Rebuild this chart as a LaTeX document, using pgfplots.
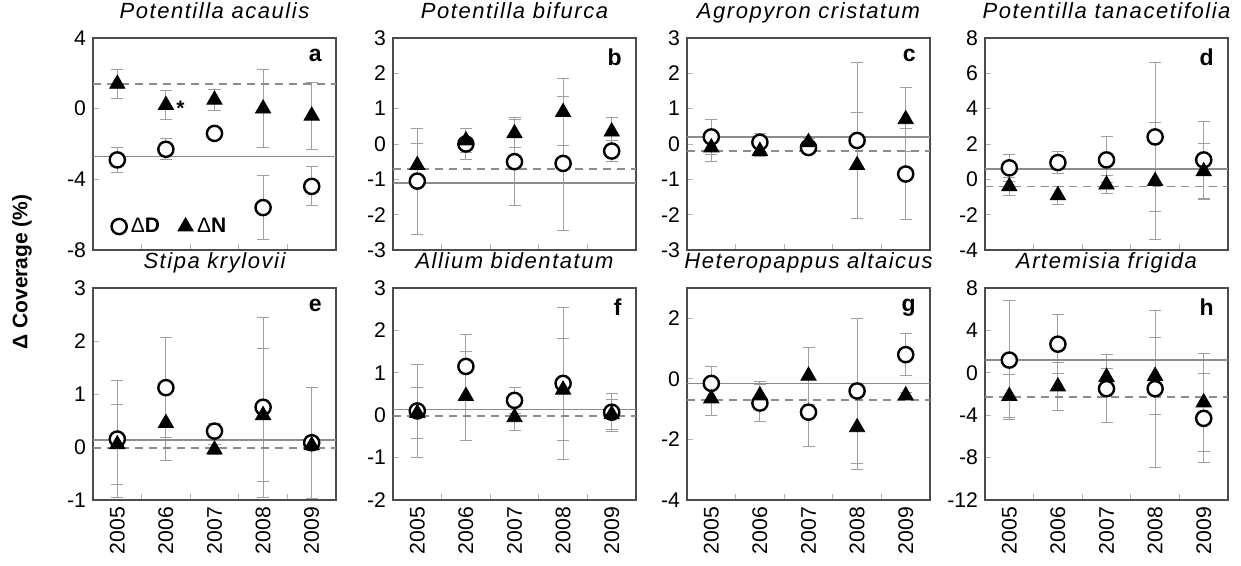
\documentclass[border=0pt]{standalone}
\usepackage{fontspec}
\setmainfont{Liberation Sans}
\newfontfamily\titlefont[LetterSpace=7]{Liberation Sans}
\usepackage{pgfplots}
\usepackage{pgfplotstable}
\pgfplotsset{compat=1.18}
\definecolor{ebar}{gray}{0.62}
\definecolor{mline}{gray}{0.55}
\definecolor{frame}{gray}{0.3}

\pgfplotstableread{
x d de n ne
0 -2.9 0.7 1.4 0.8
1 -2.3 0.6 0.2 0.8
2 -1.4 0.2 0.5 0.6
3 -5.6 1.8 0.0 2.2
4 -4.4 1.1 -0.4 1.9
}\tabA
\pgfplotstableread{
x d de n ne
0 -1.05 1.5 -0.6 0.6
1 0.0 0.45 0.1 0.35
2 -0.5 1.25 0.3 0.4
3 -0.55 1.9 0.9 0.95
4 -0.2 0.3 0.35 0.4
}\tabB
\pgfplotstableread{
x d de n ne
0 0.2 0.5 -0.1 0.4
1 0.05 0.25 -0.2 0.15
2 -0.1 0.1 0.05 0.1
3 0.1 2.2 -0.6 1.5
4 -0.85 1.3 0.7 0.9
}\tabC
\pgfplotstableread{
x d de n ne
0 0.65 0.75 -0.4 0.5
1 0.95 0.6 -0.9 0.5
2 1.1 1.3 -0.3 0.5
3 2.4 4.2 -0.1 3.3
4 1.1 2.2 0.45 1.6
}\tabD
\pgfplotstableread{
x d de n ne
0 0.15 1.1 0.05 0.75
1 1.12 0.95 0.45 0.7
2 0.3 0.15 -0.05 0.1
3 0.75 1.7 0.6 1.25
4 0.08 1.05 0.03 0.1
}\tabE
\pgfplotstableread{
x d de n ne
0 0.1 1.1 0.05 0.6
1 1.15 0.75 0.45 1.05
2 0.35 0.3 -0.05 0.3
3 0.75 1.8 0.6 1.2
4 0.07 0.45 0.02 0.35
}\tabF
\pgfplotstableread{
x d de n ne
0 -0.15 0.55 -0.65 0.55
1 -0.8 0.6 -0.55 0.45
2 -1.1 1.15 0.1 0.95
3 -0.4 2.4 -1.6 1.4
4 0.8 0.7 -0.55 0.1
}\tabG
\pgfplotstableread{
x d de n ne
0 1.2 5.6 -2.2 2.0
1 2.7 2.8 -1.3 2.3
2 -1.5 3.2 -0.4 0.8
3 -1.5 7.4 -0.3 3.6
4 -4.3 4.2 -2.8 4.6
}\tabH

\pgfplotsset{
  panel/.style={
    scale only axis, width=121.5pt, height=106pt,
    anchor=north west,
    xmin=-0.5, xmax=4.5,
    axis line style={draw=frame, line width=0.8pt},
    xtick={0.5,1.5,2.5,3.5}, xticklabels={},
    tick align=inside, xtick pos=bottom, ytick pos=left,
    tick style={draw=gray!60, line width=0.4pt},
    major tick length=3pt,
    /pgf/number format/assume math mode=true,
    yticklabel style={font=\fontsize{10.6}{12}\selectfont},
    xticklabel style={font=\fontsize{10.6}{12}\selectfont},
    title style={font=\titlefont\itshape\fontsize{11}{12}\selectfont, at={(0.5,1)}, anchor=base, yshift=3.8pt},
  },
  years/.style={
    extra x ticks={0,1,2,3,4},
    extra x tick labels={2005,2006,2007,2008,2009},
    extra x tick style={major tick length=0pt, xticklabel style={rotate=90, anchor=east, xshift=0pt}},
  },
}
\tikzset{letter/.style={font=\bfseries\fontsize{11.5}{12}\selectfont, anchor=north east}}

\newcommand{\drawpanel}[3]{%
  \addplot[only marks, mark=none, forget plot,
    error bars/.cd, y dir=both, y explicit,
    error bar style={draw=ebar, line width=0.5pt},
    error mark options={draw=ebar, rotate=90, mark size=3pt, line width=0.5pt}]
    table[x=x, y=d, y error=de] {#1};
  \addplot[only marks, mark=none, forget plot,
    error bars/.cd, y dir=both, y explicit,
    error bar style={draw=ebar, line width=0.5pt},
    error mark options={draw=ebar, rotate=90, mark size=3pt, line width=0.5pt}]
    table[x=x, y=n, y error=ne] {#1};
  \addplot[mline, line width=0.8pt, forget plot] coordinates {(-0.5,#2) (4.5,#2)};
  \addplot[mline, line width=0.8pt, dash pattern=on 4pt off 3pt, forget plot] coordinates {(-0.5,#3) (4.5,#3)};
  \addplot[only marks, mark=*, mark size=3.8pt, mark options={fill=white, draw=black, line width=1.2pt}] table[x=x, y=d] {#1};
  \addplot[only marks, mark=triangle*, mark size=4.4pt, mark options={fill=black, draw=black}] table[x=x, y=n] {#1};
}

\begin{document}
\begin{tikzpicture}
\useasboundingbox (0,0) rectangle (620.5pt,-283pt);

% a
\begin{axis}[panel, at={(46.5pt,-19pt)}, ymin=-8, ymax=4, ytick={-8,-4,0,4},
  title={Potentilla acaulis},
  legend style={at={(0.05,0.03)}, anchor=south west, draw=none, fill=none,
    font=\fontsize{10.5}{12}\selectfont, legend columns=2,
    /tikz/every even column/.append style={column sep=7pt}},
  legend cell align=left]
\drawpanel{\tabA}{-2.7}{1.4}
\legend{Δ\textbf{D}, Δ\textbf{N}}
\node[font=\bfseries\fontsize{10.5}{12}\selectfont] at (axis cs:1.3,0.05) {*};
\node[letter] at (rel axis cs:0.97,0.98) {a};
\end{axis}

% b
\begin{axis}[panel, at={(196.5pt,-19pt)}, ymin=-3, ymax=3, ytick={-3,-2,...,3},
  title={Potentilla bifurca}]
\drawpanel{\tabB}{-1.1}{-0.7}
\node[letter] at (rel axis cs:0.97,0.98) {b};
\end{axis}

% c
\begin{axis}[panel, at={(343.5pt,-19pt)}, ymin=-3, ymax=3, ytick={-3,-2,...,3},
  title={Agropyron cristatum}]
\drawpanel{\tabC}{0.2}{-0.2}
\node[letter] at (rel axis cs:0.97,0.98) {c};
\end{axis}

% d
\begin{axis}[panel, at={(492.5pt,-19pt)}, ymin=-4, ymax=8, ytick={-4,-2,...,8},
  title={Potentilla tanacetifolia}]
\drawpanel{\tabD}{0.6}{-0.4}
\node[letter] at (rel axis cs:0.97,0.98) {d};
\end{axis}

% e
\begin{axis}[panel, years, at={(46.5pt,-144pt)}, ymin=-1, ymax=3, ytick={-1,0,...,3},
  title={Stipa krylovii}]
\drawpanel{\tabE}{0.13}{-0.02}
\node[letter] at (rel axis cs:0.97,0.98) {e};
\end{axis}

% f
\begin{axis}[panel, years, at={(196.5pt,-144pt)}, ymin=-2, ymax=3, ytick={-2,-1,...,3},
  title={Allium bidentatum}]
\drawpanel{\tabF}{0.13}{-0.02}
\node[letter] at (rel axis cs:0.97,0.98) {f};
\end{axis}

% g
\begin{axis}[panel, years, at={(343.5pt,-144pt)}, ymin=-4, ymax=3, ytick={-4,-2,0,2},
  title={Heteropappus altaicus}]
\drawpanel{\tabG}{-0.15}{-0.7}
\node[letter] at (rel axis cs:0.97,0.98) {g};
\end{axis}

% h
\begin{axis}[panel, years, at={(492.5pt,-144pt)}, ymin=-12, ymax=8, ytick={-12,-8,...,8},
  title={Artemisia frigida}]
\drawpanel{\tabH}{1.2}{-2.3}
\node[letter] at (rel axis cs:0.97,0.98) {h};
\end{axis}

\node[rotate=90, font=\bfseries\fontsize{10.5}{12}\selectfont] at (11pt,-136pt) {Δ Coverage (\%)};
\end{tikzpicture}
\end{document}
